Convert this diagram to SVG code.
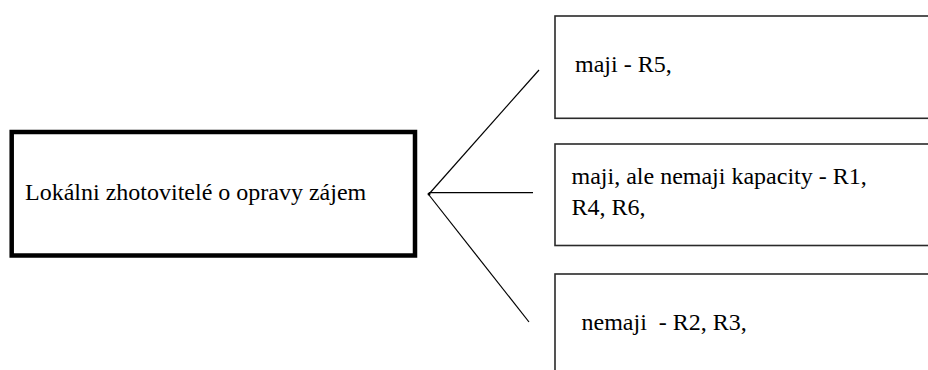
<svg xmlns="http://www.w3.org/2000/svg" width="928" height="370" viewBox="0 0 928 370" font-family="Liberation Serif, Times New Roman, serif">
<style>
  text { font-size: 24px; fill: #000; white-space: pre; }
  .main { fill: #fff; stroke: #000; stroke-width: 4.5; }
  .box { fill: #fff; stroke: #2a2a2a; stroke-width: 1.6; }
  .conn { stroke: #000; stroke-width: 1.2; fill: none; }
</style>
<rect width="928" height="370" fill="#fff"/>
<g id="node-main">
  <rect class="main" x="11.7" y="132" width="403.3" height="123.5"/>
  <text x="25" y="200">Lokálni zhotovitelé o opravy zájem</text>
</g>
<g id="node-maji">
  <rect class="box" x="555" y="16" width="390" height="102.3"/>
  <text x="575" y="71.5">maji - R5,</text>
</g>
<g id="node-kapacity">
  <rect class="box" x="555" y="144" width="390" height="101.5"/>
  <text x="571.5" y="184.3">maji, ale nemaji kapacity - R1,</text>
  <text x="571.5" y="215">R4, R6,</text>
</g>
<g id="node-nemaji">
  <rect class="box" x="555" y="274" width="390" height="120"/>
  <text x="581.5" y="330">nemaji  - R2, R3,</text>
</g>
<g id="connectors">
  <line class="conn" x1="429" y1="194" x2="539" y2="70"/>
  <line class="conn" x1="429" y1="192.7" x2="533" y2="192.7"/>
  <line class="conn" x1="429" y1="195" x2="529" y2="322"/>
  <circle cx="429" cy="194" r="1.5" fill="#000"/>
</g>
</svg>
